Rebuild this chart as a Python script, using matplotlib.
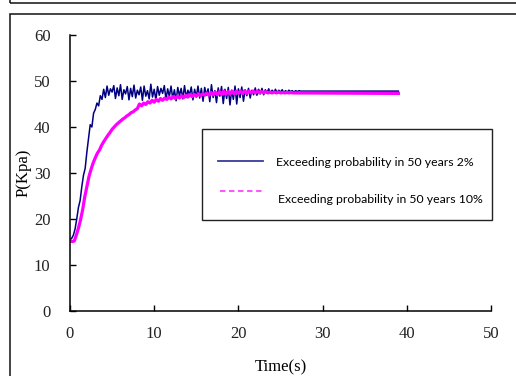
import numpy as np
import matplotlib
matplotlib.use("Agg")
import matplotlib.pyplot as plt
from matplotlib.patches import Rectangle

# 压力时程 (Kpa)，按固定步长采样，末尾再接 39 s 处的稳定值
END_T = 39.0

STEP_2 = 0.2
p_2pct = [
    15.5, 15.8, 16.5, 17.8, 20.0, 22.5, 24.0, 27.0, 29.5, 31.0,
    34.5, 37.5, 40.5, 40.0, 43.0, 43.8, 45.2, 44.6, 46.8, 46.0,
    48.2,
    46.4, 48.9, 46.9, 48.3, 47.6, 49.0, 46.2, 48.5, 46.8, 49.2,
    46.0, 48.1, 47.2, 48.8, 45.9, 48.4, 46.6, 49.1, 46.3, 48.0,
    47.0, 48.7, 45.8, 48.9, 46.7, 47.9, 46.1, 49.3, 46.5, 48.2,
    45.9, 48.8, 46.9, 48.4, 47.3, 49.0, 46.0, 48.3, 46.6, 48.9,
    46.2, 48.1, 45.7, 48.6, 46.8, 48.4, 46.1, 49.0, 46.4, 48.0,
    47.0, 48.7, 45.9, 48.2, 46.5, 48.9, 46.3, 48.4, 45.6, 48.6,
    46.9, 48.3, 45.5, 49.2, 46.4, 47.9, 45.3, 48.5, 46.7, 48.8,
    45.1, 48.2, 46.2, 48.6, 44.8, 48.0, 46.0, 48.9, 45.0, 48.3,
    46.4, 48.7, 45.6, 48.1, 46.8, 48.4, 46.3, 48.0, 47.0, 48.5,
    46.9, 48.2, 47.2, 48.4, 47.0, 48.1, 47.4, 48.3, 47.3, 48.0,
    47.5, 48.2, 47.4, 48.0, 47.6, 48.1, 47.5, 47.9, 47.6, 48.0,
    47.7, 47.9, 47.6, 47.9, 47.7, 47.9, 47.8, 47.8, 47.8, 47.8,
]
p_2pct_end = 47.8

STEP_10 = 0.25
p_10pct = [
    15.3, 15.1, 15.2, 16.5, 18.0, 19.8, 22.0, 24.8, 27.0, 29.2,
    30.8, 32.2, 33.3, 34.3, 35.0, 36.0, 36.8, 37.5, 38.2, 38.8,
    39.5, 40.0, 40.5, 40.9, 41.3, 41.7, 42.0, 42.4, 42.7, 43.1,
    43.3, 43.7, 44.0, 45.0, 44.6, 45.2, 44.9, 45.5, 45.2, 45.8,
    45.4, 46.0, 45.6, 46.2, 45.8, 46.3, 46.0, 46.5, 46.1, 46.6,
    46.2, 46.7, 46.3, 46.8, 46.4, 46.9, 46.5, 47.0, 46.6, 47.1,
    46.7, 47.2, 46.8, 47.2, 46.9, 47.4, 46.9, 47.5, 47.0, 47.6,
    47.0, 47.7, 47.1, 47.8, 47.1, 47.7, 47.2, 47.8, 47.2, 47.8,
    47.3, 47.8, 47.3, 47.9, 47.3, 47.8, 47.4, 47.8, 47.4, 47.8,
    47.4, 47.7, 47.4, 47.7, 47.4, 47.6, 47.4, 47.6, 47.4, 47.6,
    47.4, 47.5, 47.4, 47.5, 47.4, 47.5, 47.4, 47.4, 47.4, 47.4,
    47.4, 47.4, 47.4,
]
p_10pct_end = 47.3

series_labels = ["Exceeding probability in 50 years 2%",
                 "Exceeding probability in 50 years 10%"]
x_ticks = [0, 10, 20, 30, 40, 50]
y_ticks = [0, 10, 20, 30, 40, 50, 60]


def time_axis(vals, step):
    return np.r_[np.arange(len(vals)) * step, END_T]


fig = plt.figure(figsize=(5.16, 3.76), dpi=100)

# 外框（上方一条窄框 + 图表区框）
fig.patches.append(Rectangle((10 / 516, (376 - 2.5) / 376), 1.0, 0.2,
                             transform=fig.transFigure, fill=False,
                             edgecolor="#111111", lw=1.1))
fig.patches.append(Rectangle((10 / 516, -0.2), 1.0, (376 - 13.5) / 376 + 0.2,
                             transform=fig.transFigure, fill=False,
                             edgecolor="#111111", lw=1.1))

ax = fig.add_axes([70 / 516, 65 / 376, 421 / 516, 276 / 376])
serif = "Liberation Serif"

ax.plot(time_axis(p_2pct, STEP_2), p_2pct + [p_2pct_end],
        color="#000080", lw=1.1)
ax.plot(time_axis(p_10pct, STEP_10), p_10pct + [p_10pct_end],
        color="#FF00FF", lw=2.3)

ax.set_xlim(0, 50)
ax.set_ylim(0, 60)
ax.set_xticks(x_ticks)
ax.set_yticks(y_ticks)
for s in ("top", "right"):
    ax.spines[s].set_visible(False)
for s in ("left", "bottom"):
    ax.spines[s].set_linewidth(1.1)
ax.tick_params(axis="both", direction="in", length=4, width=1.0,
               labelsize=12, labelcolor="#222222")
ax.tick_params(axis="y", pad=14)
ax.tick_params(axis="x", pad=11)
for lab in ax.get_xticklabels() + ax.get_yticklabels():
    lab.set_fontfamily(serif)

ax.set_xlabel("Time(s)", fontfamily=serif, fontsize=12, labelpad=12)
ax.set_ylabel("P(Kpa)", fontfamily=serif, fontsize=12, labelpad=2)

# 图例
ax.add_patch(Rectangle((0.3135, 0.330), 0.689, 0.329, transform=ax.transAxes,
                       fill=False, edgecolor="#222222", lw=1.0, clip_on=False))
ax.plot([0.352, 0.458], [0.542, 0.542], transform=ax.transAxes,
        color="#3a3a9a", lw=1.3, clip_on=False)
ax.plot([0.357, 0.458], [0.433, 0.433], transform=ax.transAxes,
        color="#FF44FF", lw=1.3, ls=(0, (3, 2)), clip_on=False)
ax.text(0.489, 0.538, series_labels[0], transform=ax.transAxes,
        fontfamily="Lato", fontsize=8.8, va="center", ha="left")
ax.text(0.494, 0.404, series_labels[1], transform=ax.transAxes,
        fontfamily="Lato", fontsize=8.8, va="center", ha="left")

fig.savefig("out.png", dpi=100)
